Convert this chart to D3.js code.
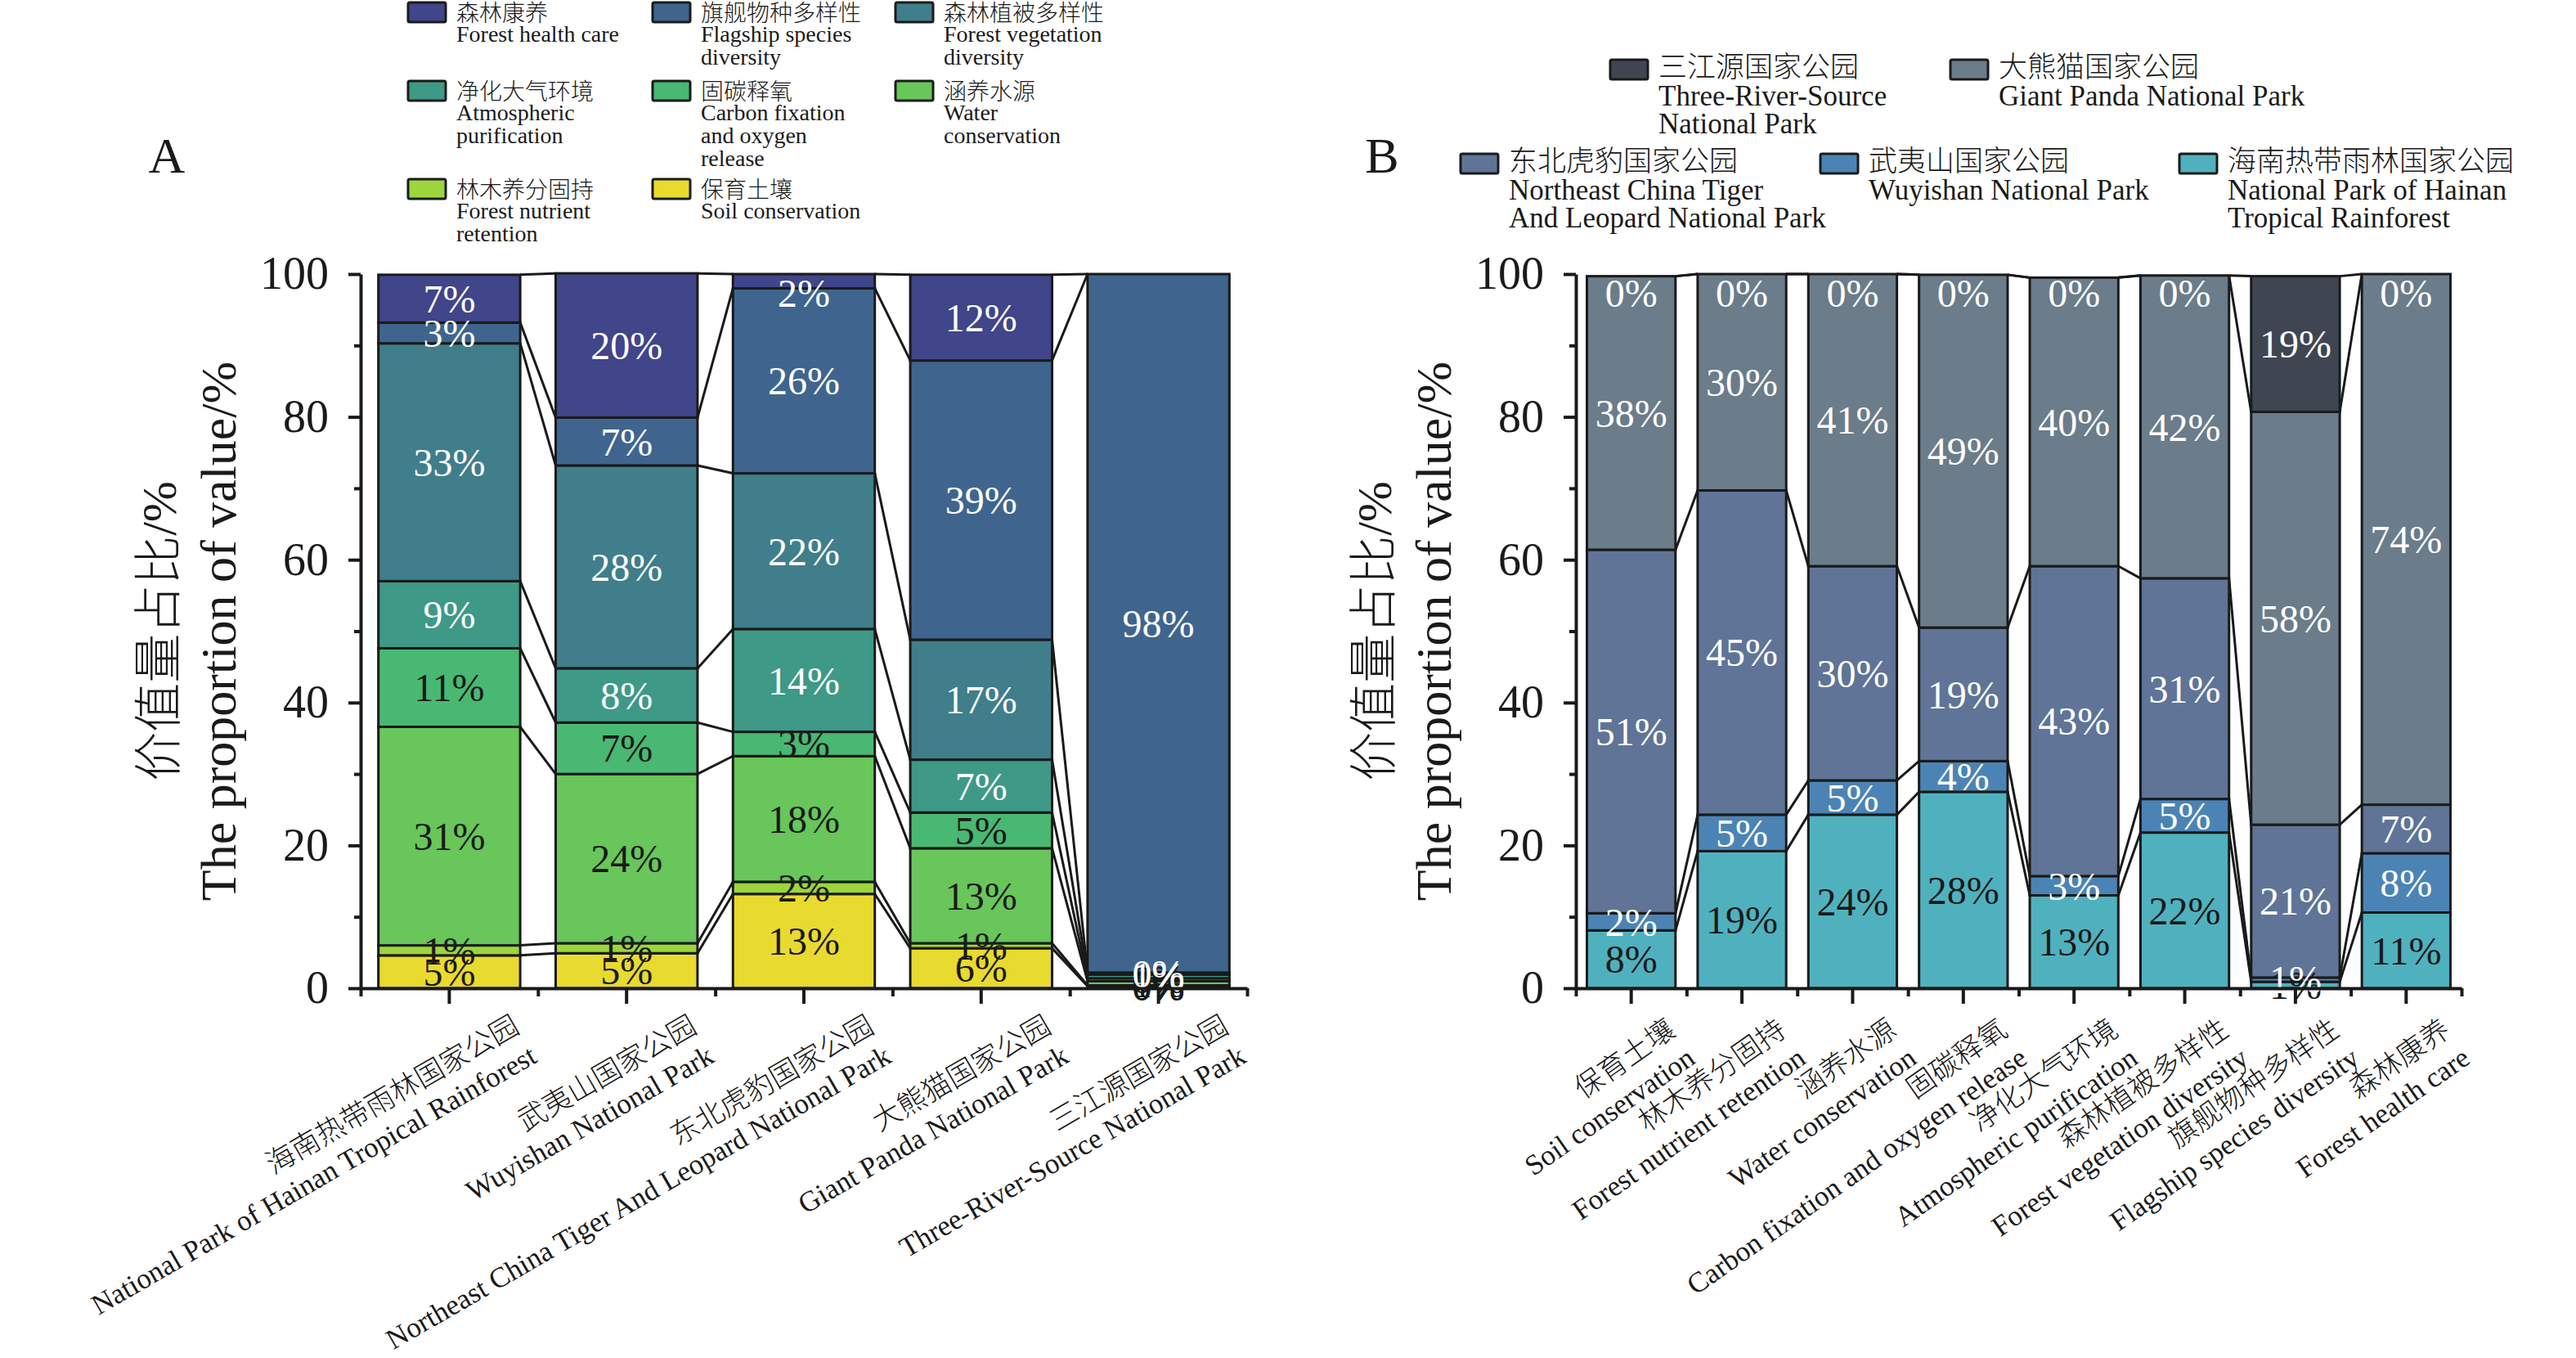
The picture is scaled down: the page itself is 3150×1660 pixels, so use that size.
<!DOCTYPE html>
<html lang="zh">
<head>
<meta charset="utf-8">
<title>国家公园生态系统服务价值量占比</title>
<script src="https://cdn.jsdelivr.net/npm/d3@7"></script>
<style>
  body { margin: 0; background: #fff; }
  svg text { fill: #1a1a1a; }
  .axis path, .axis line { stroke: #1a1a1a; stroke-width: 4; }
</style>
</head>
<body>
<script>
// ---------- data ----------
// Panel A: parks on x, services stacked (bottom -> top)
var parksZhA = ["海南热带雨林国家公园", "武夷山国家公园", "东北虎豹国家公园", "大熊猫国家公园", "三江源国家公园"];
var parksEnA = ["National Park of Hainan Tropical Rainforest", "Wuyishan National Park",
                "Northeast China Tiger And Leopard National Park", "Giant Panda National Park",
                "Three-River-Source National Park"];

var soilA       = [4.6, 4.9, 13.2, 5.6, 0.3];
var nutrientA   = [1.4, 1.4, 1.7, 0.7, 0.1];
var waterA      = [30.6, 23.7, 17.6, 13.3, 0.6];
var carbonA     = [11.0, 7.2, 3.4, 5.0, 0.4];
var atmosA      = [9.4, 7.6, 14.4, 7.4, 0.5];
var vegetationA = [33.3, 28.4, 21.8, 16.8, 0.3];
var flagshipA   = [2.9, 6.7, 25.9, 39.1, 97.8];
var healthA     = [6.7, 20.2, 2.0, 12.0, null];

// Panel B: services on x, parks stacked (bottom -> top)
var funcZhB = ["保育土壤", "林木养分固持", "涵养水源", "固碳释氧", "净化大气环境", "森林植被多样性", "旗舰物种多样性", "森林康养"];
var funcEnB = ["Soil conservation", "Forest nutrient retention", "Water conservation",
               "Carbon fixation and oxygen release", "Atmospheric purification",
               "Forest vegetation diversity", "Flagship species diversity", "Forest health care"];

var hainanB = [8.1, 19.2, 24.3, 27.5, 13.0, 21.8, 0.9, 10.6];
var wuyiB   = [2.4, 5.1, 4.8, 4.3, 2.7, 4.7, 0.6, 8.3];
var neB     = [50.9, 45.4, 30.0, 18.7, 43.4, 30.9, 21.4, 6.8];
var pandaB  = [38.3, 30.3, 40.9, 49.4, 40.4, 42.4, 57.8, 74.3];
var threeB  = [0, 0, 0, 0, 0, 0, 19.0, 0];

var yTicks = [0, 20, 40, 60, 80, 100];

// series definitions (legend text + colours)
var seriesA = [
  { key: "soil",       values: soilA,       color: "#e9da2f", light: false, zh: "保育土壤",       en: ["Soil conservation"] },
  { key: "nutrient",   values: nutrientA,   color: "#9dd53c", light: false, zh: "林木养分固持",   en: ["Forest nutrient", "retention"] },
  { key: "water",      values: waterA,      color: "#68c65a", light: false, zh: "涵养水源",       en: ["Water", "conservation"] },
  { key: "carbon",     values: carbonA,     color: "#49b873", light: false, zh: "固碳释氧",       en: ["Carbon fixation", "and oxygen", "release"] },
  { key: "atmos",      values: atmosA,      color: "#3e9986", light: true,  zh: "净化大气环境",   en: ["Atmospheric", "purification"] },
  { key: "vegetation", values: vegetationA, color: "#3f7e8a", light: true,  zh: "森林植被多样性", en: ["Forest vegetation", "diversity"] },
  { key: "flagship",   values: flagshipA,   color: "#3f658e", light: true,  zh: "旗舰物种多样性", en: ["Flagship species", "diversity"] },
  { key: "health",     values: healthA,     color: "#414589", light: true,  zh: "森林康养",       en: ["Forest health care"] }
];

var seriesB = [
  { key: "hainan", values: hainanB, color: "#50b1be", light: false, zh: "海南热带雨林国家公园", en: ["National Park of Hainan", "Tropical Rainforest"] },
  { key: "wuyi",   values: wuyiB,   color: "#4b84b4", light: true,  zh: "武夷山国家公园",       en: ["Wuyishan National Park"] },
  { key: "ne",     values: neB,     color: "#5f7497", light: true,  zh: "东北虎豹国家公园",     en: ["Northeast China Tiger", "And Leopard National Park"] },
  { key: "panda",  values: pandaB,  color: "#6b7c8a", light: true,  zh: "大熊猫国家公园",       en: ["Giant Panda National Park"] },
  { key: "three",  values: threeB,  color: "#3f4652", light: true,  zh: "三江源国家公园",       en: ["Three-River-Source", "National Park"] }
];

// ---------- layout ----------
var w = 3150, h = 1660;
var yTop = 335, yBottom = 1208;
var serif = '"Liberation Serif", "Times New Roman", serif';
var cjk = '"Noto Sans CJK SC", sans-serif';
var ink = "#1a1a1a";

var svg = d3.select("body").append("svg")
  .attr("width", w).attr("height", h);

var y = d3.scaleLinear().domain([0, 100]).range([yBottom, yTop]);

function drawPanel(cfg) {
  var n = cfg.zh.length;
  var x = d3.scaleBand().domain(d3.range(n))
    .range([cfg.x0, cfg.x1]).paddingInner(0.2).paddingOuter(0.1);
  var bw = x.bandwidth();

  var table = d3.range(n).map(function(i) {
    var row = {};
    cfg.series.forEach(function(s) { row[s.key] = s.values[i]; });
    return row;
  });
  var layers = d3.stack()
    .keys(cfg.series.map(function(s) { return s.key; }))
    .value(function(d, k) { return d[k] == null ? 0 : d[k]; })(table);

  var g = svg.append("g");

  // connector lines between bar edges
  layers.forEach(function(layer) {
    for (var i = 0; i < n - 1; i++) {
      g.append("line")
        .attr("x1", x(i) + bw).attr("y1", y(layer[i][1]))
        .attr("x2", x(i + 1)).attr("y2", y(layer[i + 1][1]))
        .attr("stroke", ink).attr("stroke-width", 3);
    }
  });

  // stacked bars
  layers.forEach(function(layer, li) {
    var s = cfg.series[li];
    g.selectAll(null).data(layer).enter().append("rect")
      .attr("x", function(d, i) { return x(i); })
      .attr("y", function(d) { return y(d[1]); })
      .attr("width", bw)
      .attr("height", function(d) { return y(d[0]) - y(d[1]); })
      .attr("fill", s.color)
      .attr("stroke", ink).attr("stroke-width", 3);
  });

  // percentage labels
  layers.forEach(function(layer, li) {
    var s = cfg.series[li];
    layer.forEach(function(d, i) {
      var v = s.values[i];
      if (v == null) return;
      var mid = Math.min((d[0] + d[1]) / 2, 97.3);
      g.append("text")
        .attr("x", x(i) + bw / 2).attr("y", y(mid)).attr("dy", "0.35em")
        .attr("text-anchor", "middle")
        .attr("font-family", serif).attr("font-size", 48)
        .style("fill", s.light ? "#ffffff" : ink)
        .text(Math.round(v) + "%");
    });
  });

  // x axis: major ticks at bar centres, minor ticks at bar edges
  g.append("g").attr("class", "axis")
    .attr("transform", "translate(0," + yBottom + ")")
    .call(d3.axisBottom(x).tickSize(19).tickSizeOuter(0).tickFormat(""));
  var xEdge = d3.scaleLinear().domain([0, n]).range([cfg.x0, cfg.x1]);
  g.append("g").attr("class", "axis")
    .attr("transform", "translate(0," + yBottom + ")")
    .call(d3.axisBottom(xEdge).tickValues(d3.range(n + 1)).tickSize(10).tickFormat(""))
    .select(".domain").remove();

  // y axis
  var ya = g.append("g").attr("class", "axis")
    .attr("transform", "translate(" + cfg.x0 + ",0)")
    .call(d3.axisLeft(y).tickValues(yTicks).tickSize(15).tickSizeOuter(0).tickPadding(24));
  ya.attr("font-family", serif).attr("font-size", 56);
  ya.selectAll("text").style("fill", ink);
  g.append("g").attr("class", "axis")
    .attr("transform", "translate(" + cfg.x0 + ",0)")
    .call(d3.axisLeft(y).tickValues([10, 30, 50, 70, 90]).tickSize(8).tickFormat(""))
    .select(".domain").remove();

  // rotated category labels (Chinese + English)
  d3.range(n).forEach(function(i) {
    var lg = g.append("g")
      .attr("transform", "translate(" + (x(i) + bw / 2 + cfg.labDx) + "," + (yBottom + cfg.labDy) + ") rotate(" + cfg.angle + ")");
    lg.append("text").attr("text-anchor", "end")
      .attr("font-family", cjk).attr("font-weight", 300).attr("font-size", 35)
      .text(cfg.zh[i]);
    lg.append("text").attr("text-anchor", "end").attr("y", 42)
      .attr("font-family", serif).attr("font-size", 35)
      .text(cfg.en[i]);
  });

  // y titles
  var midY = (yTop + yBottom) / 2;
  var t1 = g.append("text")
    .attr("transform", "translate(" + (cfg.x0 - 226) + "," + midY + ") rotate(-90)")
    .attr("text-anchor", "middle").attr("font-size", 60);
  t1.append("tspan").attr("font-family", cjk).attr("font-weight", 300).text("价值量占比");
  t1.append("tspan").attr("font-family", serif).text("/%");
  g.append("text")
    .attr("transform", "translate(" + (cfg.x0 - 153) + "," + midY + ") rotate(-90)")
    .attr("text-anchor", "middle").attr("font-family", serif).attr("font-size", 62)
    .text("The proportion of value/%");

  // panel letter
  g.append("text").attr("x", cfg.letterX).attr("y", 211)
    .attr("text-anchor", "middle").attr("font-family", serif).attr("font-size", 62)
    .text(cfg.letter);

  // legend
  cfg.legend.forEach(function(item) {
    var s = cfg.series.find(function(d) { return d.key === item.key; });
    var lg = g.append("g").attr("transform", "translate(" + item.x + "," + item.y + ")");
    lg.append("rect").attr("width", 46).attr("height", 24).attr("rx", 2)
      .attr("fill", s.color).attr("stroke", ink).attr("stroke-width", 3);
    lg.append("text").attr("x", 59).attr("y", cfg.legZh)
      .attr("font-family", cjk).attr("font-weight", 300).attr("font-size", cfg.legFont)
      .text(s.zh);
    s.en.forEach(function(line, j) {
      lg.append("text").attr("x", 59).attr("y", cfg.legEn + j * cfg.legLine)
        .attr("font-family", serif).attr("font-size", cfg.legFont)
        .text(line);
    });
  });
}

drawPanel({
  zh: parksZhA, en: parksEnA, series: seriesA,
  x0: 441, x1: 1525, labDx: 88, labDy: 53, angle: -30,
  letter: "A", letterX: 204,
  legFont: 28, legZh: 23, legEn: 48, legLine: 28,
  legend: [
    { key: "health", x: 499, y: 3 }, { key: "flagship", x: 798, y: 3 }, { key: "vegetation", x: 1095, y: 3 },
    { key: "atmos", x: 499, y: 99 }, { key: "carbon", x: 798, y: 99 }, { key: "water", x: 1095, y: 99 },
    { key: "nutrient", x: 499, y: 219 }, { key: "soil", x: 798, y: 219 }
  ]
});

drawPanel({
  zh: funcZhB, en: funcEnB, series: seriesB,
  x0: 1927, x1: 3010, labDx: 56, labDy: 56, angle: -35,
  letter: "B", letterX: 1690,
  legFont: 35, legZh: 21, legEn: 56, legLine: 34,
  legend: [
    { key: "three", x: 1969, y: 73 }, { key: "panda", x: 2385, y: 73 },
    { key: "ne", x: 1786, y: 188 }, { key: "wuyi", x: 2226, y: 188 }, { key: "hainan", x: 2665, y: 188 }
  ]
});
</script>
</body>
</html>
